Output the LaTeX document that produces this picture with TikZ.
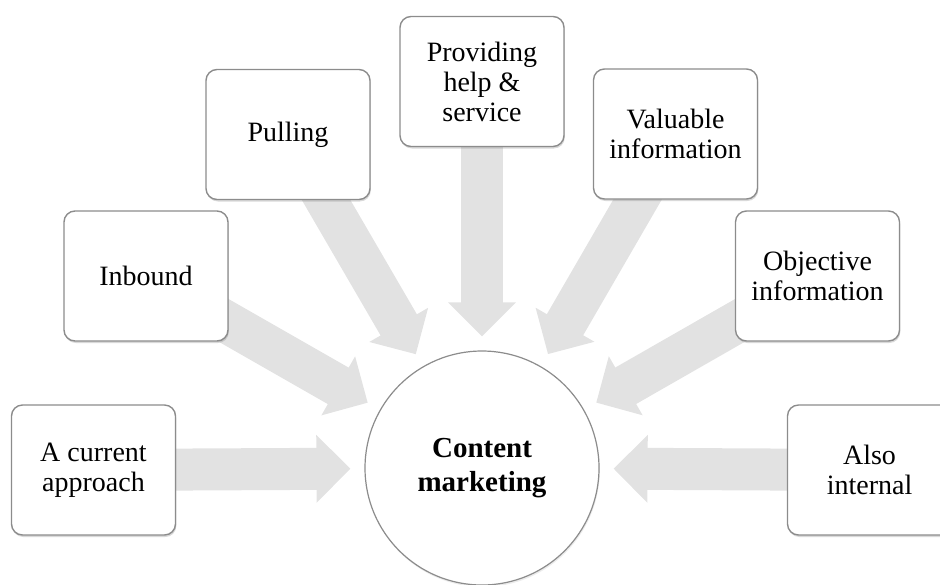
\documentclass[tikz,border=0pt]{standalone}
\usepackage{fontspec}
\setmainfont{Liberation Serif}
\usetikzlibrary{arrows.meta,shadows,backgrounds}

\begin{document}
\begin{tikzpicture}
[x=0.5pt,y=-0.5pt,
box/.style={draw=gray!90,line width=0.7pt,fill=white,rounded corners=5.5pt,minimum width=82pt,minimum height=65pt,
  align=center,font=\fontsize{14}{15}\selectfont,
  drop shadow={opacity=0.3,shadow xshift=0.4pt,shadow yshift=-1pt}},
hub/.style={circle,draw=gray!90,line width=0.6pt,fill=white,minimum size=117pt,inner sep=0pt,align=center,
  font=\fontsize{14.5}{17}\selectfont\bfseries,
  drop shadow={opacity=0.15,shadow xshift=0.4pt,shadow yshift=-1pt}},
flow/.style={line width=21pt,draw=gray!23,-{Triangle[length=17pt,width=33pt]},shorten >=7pt}]
\useasboundingbox (0,0) rectangle (940,584);
\node[hub] (cm) at (482,468) {Content\\marketing};
\node[box] (acur) at (93.5,470) {A current\\approach};
\node[box] (inb) at (146,276) {Inbound};
\node[box] (pull) at (288,134.5) {Pulling};
\node[box] (prov) at (482,81.5) {Providing\\help \&\\service};
\node[box] (valu) at (675.5,134) {Valuable\\information};
\node[box] (obj) at (817.5,276) {Objective\\information};
\node[box] (also) at (869.5,470) {Also\\internal};
\begin{scope}[on background layer]
\foreach \from in {acur,inb,pull,prov,valu,obj,also}
\draw[flow] (\from.center) -- (cm);
\end{scope}
\end{tikzpicture}
\end{document}
